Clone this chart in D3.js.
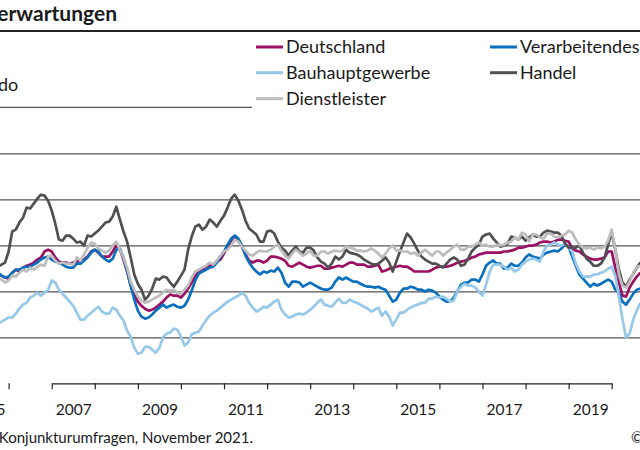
<!DOCTYPE html>
<html><head><meta charset="utf-8">
<script src="https://cdn.jsdelivr.net/npm/d3@7"></script>
<style>
html,body{margin:0;padding:0;background:#fff;}
svg{display:block;font-family:Lato,"Open Sans",sans-serif;}
</style></head><body>
<svg id="chart" width="640" height="450"></svg>
<script>
// monthly data, first value = October 2005
const firstYear = 2005, firstMonth = 9; // 0-based month index (October)

const deutschland = [8.1,6.8,6.0,5.5,8.1,9.4,8.6,10.3,11.1,11.6,12.5,13.8,14.7,17.3,18.1,
17.3,14.7,12.9,12.5,12.5,12.0,12.5,12.9,13.3,13.8,
15.1,17.3,18.1,16.8,15.1,15.1,15.1,17.3,19.9,18.1,
13.8,8.6,2.5,-1.4,-4.5,-6.3,-7.6,-8.4,-8.0,-7.1,
-5.8,-4.5,-2.7,-1.4,-1.9,-1.9,-2.7,-1.0,1.2,3.8,
6.8,8.6,9.4,10.3,11.1,11.6,12.9,13.8,16.4,19.4,
22.0,23.4,22.0,19.4,16.0,13.3,12.5,13.3,13.3,12.5,
13.3,15.1,15.1,14.7,14.2,13.3,11.1,10.7,11.6,12.5,
11.6,10.7,10.3,10.7,11.1,11.1,9.8,9.8,10.3,10.7,
11.1,10.7,11.6,12.5,12.5,11.6,11.6,11.6,10.7,10.7,
11.1,11.6,8.6,9.0,9.8,10.3,10.7,11.1,10.7,10.7,
9.8,8.6,8.6,8.6,8.6,8.6,9.4,10.3,10.7,10.7,
10.7,11.1,11.6,12.5,12.9,13.3,13.8,14.7,15.1,16.0,
16.4,16.8,16.8,16.8,16.8,16.8,17.3,17.3,17.7,18.1,
19.0,19.0,19.4,19.9,19.9,20.3,21.2,21.6,21.6,21.2,
21.6,22.5,22.5,22.0,21.6,18.6,17.7,17.3,16.0,15.1,
14.2,13.8,13.8,14.2,14.7,17.3,17.3,10.3,3.8,-1.9,
-2.3,1.6,4.2,6.4,8.1];

const verarbeitendes = [8.1,6.8,6.0,6.4,8.1,9.4,9.4,10.3,10.7,10.7,11.6,12.5,13.8,14.7,15.1,
13.8,12.9,12.5,11.6,10.7,10.3,10.3,12.0,12.0,13.3,
14.7,16.8,18.1,17.3,15.1,13.8,12.9,14.2,18.1,18.6,
14.7,9.0,2.5,-3.6,-8.4,-11.0,-11.9,-11.4,-10.1,-8.4,
-7.1,-5.8,-7.1,-6.3,-5.8,-6.7,-7.1,-6.3,-3.6,0.3,
4.7,7.7,8.6,9.4,10.3,10.7,12.5,15.1,17.3,20.3,
22.9,24.2,22.9,19.9,15.5,12.5,10.3,8.6,7.3,8.6,
8.1,9.0,8.6,10.3,8.1,3.8,2.0,4.2,4.2,3.8,
2.0,2.9,3.8,2.9,2.0,1.2,0.7,0.7,1.6,4.2,
6.0,5.1,6.0,5.1,4.2,4.2,3.3,2.5,2.0,2.0,
1.6,2.0,1.2,0.7,-1.9,-4.5,-3.6,-0.6,1.2,1.2,
2.0,1.6,0.7,0.7,-0.1,0.7,0.3,-0.6,-2.3,-3.6,
-4.5,-4.5,-2.7,-0.1,2.9,3.8,3.8,5.1,5.1,4.2,
7.3,11.1,12.5,13.4,12.0,12.0,9.8,10.3,12.0,11.1,
11.1,12.5,14.7,16.0,15.1,14.7,14.2,16.0,16.8,17.3,
17.7,17.3,18.6,20.3,19.4,15.1,11.1,7.3,5.5,3.8,
2.0,3.3,2.5,3.3,4.2,5.1,4.2,0.7,-0.6,-4.5,
-5.8,-3.6,-1.0,0.7,1.2];

const bauhauptgewerbe = [-14.0,-13.2,-12.3,-11.4,-11.4,-9.7,-7.5,-5.8,-5.0,-2.7,-1.9,-0.6,-1.9,-0.6,0.7,
4.7,3.8,0.7,-1.0,-2.7,-4.5,-6.3,-9.3,-12.3,-12.3,
-10.6,-9.3,-8.0,-6.7,-8.8,-9.7,-9.7,-7.1,-8.0,-10.6,
-12.7,-17.1,-19.7,-24.5,-27.1,-26.7,-24.1,-24.1,-25.4,-26.7,
-24.5,-20.1,-18.4,-18.0,-16.2,-16.7,-19.7,-23.6,-22.3,-18.8,
-18.0,-17.5,-14.9,-12.7,-10.6,-9.3,-8.4,-7.1,-5.8,-4.5,
-3.6,-2.7,-1.9,-0.6,-1.9,-5.0,-7.1,-8.8,-8.0,-6.7,
-7.1,-5.8,-4.5,-3.6,-8.0,-10.1,-11.4,-11.0,-10.1,-9.7,
-10.1,-9.3,-8.0,-6.7,-5.0,-3.6,-5.8,-6.3,-6.7,-4.9,
-3.2,-5.0,-5.0,-3.6,-4.5,-5.0,-5.8,-6.7,-7.5,-8.8,
-8.0,-7.1,-10.6,-8.8,-11.0,-14.9,-12.3,-9.3,-9.3,-8.0,
-7.1,-6.3,-5.8,-5.0,-5.0,-3.2,-3.2,-2.3,-2.7,-2.3,
-3.2,-4.5,-4.0,-0.1,2.0,3.3,2.5,2.5,1.6,-0.1,
-1.9,2.9,8.6,11.6,11.6,11.6,10.7,9.4,10.3,8.6,
9.4,11.6,12.9,13.8,14.2,13.8,12.9,17.3,19.9,20.3,
21.2,20.3,19.9,20.7,19.0,17.3,12.0,8.6,6.4,6.4,
6.4,7.3,7.3,8.1,8.6,9.8,10.7,6.8,-2.3,-12.3,
-20.1,-18.4,-12.3,-8.4,-5.0];

const handel = [10.7,11.6,12.5,17.3,26.0,26.8,29.9,32.0,36.4,36.0,38.1,40.3,42.0,41.6,39.4,
35.1,29.4,22.5,22.0,24.2,24.2,22.9,21.2,21.6,19.9,
24.2,23.8,25.1,26.4,28.1,29.9,30.3,32.5,36.8,31.2,
26.0,21.6,14.7,7.3,3.3,0.7,-3.6,-1.9,1.2,5.5,
5.1,6.4,6.0,3.8,2.0,4.2,6.8,9.4,18.1,23.8,
28.1,29.0,26.8,28.1,31.2,29.9,28.1,30.7,32.9,36.4,
40.3,42.0,39.4,35.5,30.7,27.3,26.0,24.7,21.6,21.6,
26.0,26.4,25.1,21.6,19.0,17.7,15.5,17.7,19.4,17.3,
16.8,19.0,19.0,17.7,14.7,12.9,12.0,10.3,12.0,15.1,
13.8,15.1,18.1,16.8,16.4,16.0,15.1,13.8,12.9,12.0,
11.6,12.0,13.3,14.7,12.5,8.6,12.9,17.3,21.2,25.1,
23.4,20.7,17.7,15.1,13.8,12.9,12.0,12.0,11.1,10.3,
12.0,13.8,14.7,13.8,11.1,11.6,14.2,17.3,19.0,20.3,
23.8,24.7,25.1,22.9,21.2,19.4,19.9,20.7,23.8,23.4,
22.5,23.8,22.0,23.4,24.7,23.8,23.8,25.5,26.4,26.0,
25.5,25.5,24.2,20.7,19.0,19.0,19.0,19.9,16.8,14.2,
12.9,11.1,11.1,12.0,14.7,20.3,25.5,18.1,9.4,3.8,
2.0,5.1,7.7,10.3,12.5];

const dienstleister = [6.0,5.1,3.8,4.7,6.8,6.4,8.1,9.4,8.6,10.3,9.4,10.7,11.6,11.1,15.1,
15.5,13.3,12.0,12.5,12.0,12.0,11.6,14.7,13.3,16.0,
19.0,21.2,20.7,18.6,17.7,16.8,17.7,19.9,21.6,18.1,
14.7,10.3,4.2,0.7,-2.3,-4.0,-5.0,-4.5,-3.6,-2.7,
-1.9,-0.6,0.7,0.3,0.7,-0.6,-1.0,0.7,2.5,6.0,
8.6,9.4,10.3,11.1,12.5,11.6,13.4,15.5,17.3,18.1,
19.9,22.5,21.6,19.4,17.7,16.0,15.5,16.8,17.7,17.3,
17.3,18.1,19.4,20.3,17.7,15.5,14.2,16.4,18.1,16.8,
15.5,16.4,17.7,15.5,15.5,17.3,17.3,16.4,17.3,17.7,
17.3,17.7,19.4,19.0,18.6,17.7,17.7,17.3,17.7,18.6,
17.7,16.4,14.7,16.4,18.6,19.9,17.7,17.7,17.3,17.3,
16.4,16.8,15.5,16.8,18.1,16.8,15.5,17.3,17.3,15.5,
16.8,18.1,19.4,20.3,18.1,18.1,19.4,19.4,20.3,21.2,
19.9,20.3,19.4,19.4,20.3,19.9,20.3,21.2,21.6,23.4,
22.5,25.5,24.7,21.6,24.7,24.7,23.4,22.9,25.1,25.1,
23.8,23.4,24.2,24.7,26.4,25.5,22.5,20.3,19.0,18.6,
19.0,18.1,19.0,18.6,19.4,22.0,26.8,18.1,7.3,2.5,
1.6,4.2,8.1,10.7,11.1];

const seriesNames = ["Deutschland","Verarbeitendes Gewerbe","Bauhauptgewerbe","Handel","Dienstleister"];
const seriesColors = ["#9c0f62","#0a70bd","#96c8ea","#505050","#bdbdbd"];
const seriesValues = [deutschland, verarbeitendes, bauhauptgewerbe, handel, dienstleister];
const yearTicks = d3.range(2005, 2023);
const yearLabels = [2005,2007,2009,2011,2013,2015,2017,2019,2021];
const yTicks = [-40,-20,0,20,40,60];

const svg = d3.select("#chart");
const x = d3.scaleLinear().domain([2007, 2020]).range([51.7, 611.7]);
const y = d3.scaleLinear().domain([-40, 60]).range([383.3, 153.3]);
const xLeft = x(2005), xRight = x(2022);

// title block
svg.append("text").attr("x", 117).attr("y", 21).attr("text-anchor","end")
  .attr("font-size", 21).attr("font-weight", 700).attr("fill","#1a1a1a")
  .text("ifo Preiserwartungen");
svg.append("line").attr("x1", xLeft).attr("x2", xRight).attr("y1", 31).attr("y2", 31)
  .attr("stroke","#222").attr("stroke-width",1.8);
svg.append("text").attr("x", 18.3).attr("y", 90.7).attr("text-anchor","end")
  .attr("font-size", 18).attr("fill","#1a1a1a").text("Saldo");
svg.append("line").attr("x1", xLeft).attr("x2", 252).attr("y1", 107.3).attr("y2", 107.3)
  .attr("stroke","#555").attr("stroke-width",1.2);

// legend
const legendPos = [[256,47],[490,47],[256,72.7],[490,72.7],[256,98.7]];
const lg = svg.append("g");
seriesNames.forEach((n,i)=>{
  const [lx,ly] = legendPos[i];
  lg.append("line").attr("x1",lx).attr("x2",lx+27).attr("y1",ly).attr("y2",ly)
    .attr("stroke",seriesColors[i]).attr("stroke-width",3);
  lg.append("text").attr("x",lx+30).attr("y",ly+6.3).attr("font-size",18)
    .attr("fill","#1a1a1a").text(n);
});

// gridlines
const grid = svg.append("g").attr("transform",`translate(${xLeft},0)`)
  .call(d3.axisLeft(y).tickValues(yTicks.slice(1)).tickSize(-(xRight-xLeft)).tickFormat(""));
grid.select(".domain").remove();
grid.selectAll(".tick line").attr("stroke","#555").attr("stroke-width",1.2);

// x axis
const xa = svg.append("g").attr("transform",`translate(0,${y(-40)})`)
  .call(d3.axisBottom(x).tickValues(yearTicks).tickSize(6).tickSizeOuter(0).tickFormat(""));
xa.select(".domain").attr("stroke","#222").attr("stroke-width",1.2);
xa.selectAll(".tick line").attr("stroke","#222").attr("stroke-width",1.2);

const xl = svg.append("g").attr("transform",`translate(0,${y(-40)})`)
  .call(d3.axisBottom(x).tickValues(yearLabels.map(v=>v+0.5)).tickSize(0).tickPadding(20.5)
    .tickFormat(v=>String(Math.floor(v))));
xl.select(".domain").remove();
xl.selectAll("text").attr("font-size",15.5).attr("font-family","Lato,sans-serif").attr("fill","#1a1a1a");

// lines
const t0 = firstYear + firstMonth/12;
const line = d3.line().x((d,i)=>x(t0 + i/12)).y(d=>y(d)).curve(d3.curveLinear);
svg.append("g").selectAll("path").data(seriesValues).join("path")
  .attr("d", d=>line(d)).attr("fill","none")
  .attr("stroke",(d,i)=>seriesColors[i]).attr("stroke-width",2.7)
  .attr("stroke-linejoin","round");

// footer
svg.append("text").attr("x",253).attr("y",443).attr("text-anchor","end")
  .attr("font-size",15).attr("fill","#1a1a1a").text("Quelle: ifo Konjunkturumfragen, November 2021.");
svg.append("text").attr("x",631).attr("y",443).attr("font-size",15)
  .attr("fill","#1a1a1a").text("© ifo Institut");
</script>
</body></html>
